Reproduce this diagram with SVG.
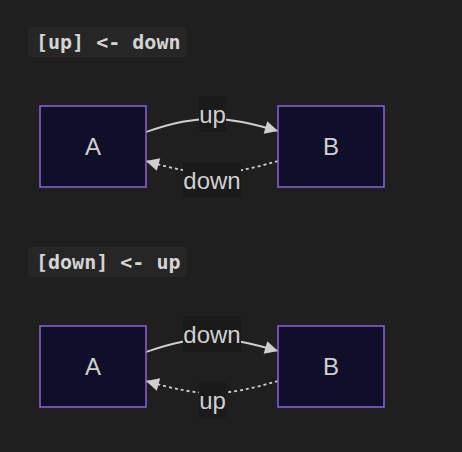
<svg xmlns="http://www.w3.org/2000/svg" width="462" height="452" viewBox="0 0 462 452">
<defs>
<style>
.title-bg{fill:#262626;}
.title{font-family:"DejaVu Sans Mono",monospace;font-weight:bold;font-size:20px;fill:#d4d4d4;}
.node rect{fill:#0f0f29;stroke:#8c62dc;stroke-width:1.5;}
.node text{font-family:"Liberation Sans",Arial,sans-serif;font-size:24px;fill:#d0d0d0;text-anchor:middle;dominant-baseline:central;}
.edge{fill:none;stroke:#cfcfcf;stroke-width:1.8;}
.dotted{stroke-dasharray:3 3;}
.lbl-bg{fill:#1a1a1a;}
.lbl{font-family:"Liberation Sans",Arial,sans-serif;font-size:24px;fill:#d0d0d0;text-anchor:middle;dominant-baseline:central;}
</style>
<marker id="arrow" viewBox="0 0 10 10" refX="10" refY="5" markerUnits="userSpaceOnUse" markerWidth="16" markerHeight="13" orient="auto">
<path d="M0,0 L10,5 L0,10 z" fill="#cfcfcf"/>
</marker>
</defs>
<rect width="462" height="452" fill="#1f1f1f"/>

<g id="title1">
<rect class="title-bg" x="28" y="27" width="159" height="30" rx="4"/>
<text class="title" x="36" y="49">[up] &lt;- down</text>
</g>
<g id="title2">
<rect class="title-bg" x="28" y="247" width="159" height="30" rx="4"/>
<text class="title" x="36" y="269">[down] &lt;- up</text>
</g>

<g id="connectors">
<path class="edge" d="M146,132 C175,122 192,119 212,119 C232,119 250,123 278,131" marker-end="url(#arrow)"/>
<path class="edge dotted" d="M278,161 C250,169 232,173 212,173 C192,173 175,169 146,161" marker-end="url(#arrow)"/>
<path class="edge" d="M146,352 C175,342 192,339 212,339 C232,339 250,343 278,351" marker-end="url(#arrow)"/>
<path class="edge dotted" d="M278,381 C250,389 232,393 212,393 C192,393 175,389 146,381" marker-end="url(#arrow)"/>
</g>

<g id="edge-labels">
<rect class="lbl-bg" x="199" y="96" width="27" height="36"/>
<text class="lbl" x="212.5" y="114">up</text>
<rect class="lbl-bg" x="183" y="162" width="58" height="36"/>
<text class="lbl" x="212" y="180">down</text>
<rect class="lbl-bg" x="183" y="316" width="58" height="36"/>
<text class="lbl" x="212" y="334">down</text>
<rect class="lbl-bg" x="199" y="382" width="27" height="36"/>
<text class="lbl" x="212.5" y="400">up</text>
</g>

<g id="A1" class="node">
<rect x="40" y="106" width="106" height="81"/>
<text x="93" y="146.5">A</text>
</g>
<g id="B1" class="node">
<rect x="278" y="106" width="106" height="81"/>
<text x="331" y="146.5">B</text>
</g>
<g id="A2" class="node">
<rect x="40" y="326" width="106" height="81"/>
<text x="93" y="366.5">A</text>
</g>
<g id="B2" class="node">
<rect x="278" y="326" width="106" height="81"/>
<text x="331" y="366.5">B</text>
</g>
</svg>
